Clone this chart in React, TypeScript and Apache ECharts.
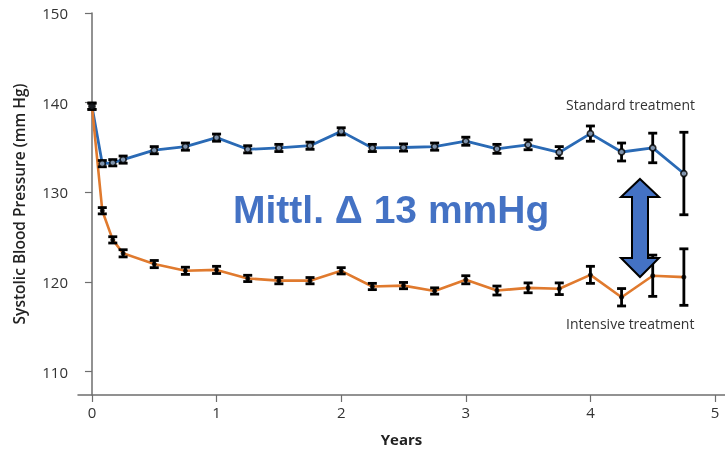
import React, { useEffect, useRef } from "react";
import * as echarts from "echarts";

// Visit times in years (baseline, 1 month, 2 months, 3 months, then quarterly)
const years = [0, 0.083, 0.167, 0.25, 0.5, 0.75, 1, 1.25, 1.5, 1.75, 2, 2.25, 2.5, 2.75, 3, 3.25, 3.5, 3.75, 4, 4.25, 4.5, 4.75];

// Mean systolic blood pressure (mm Hg)
const standardMean = [139.6, 133.2, 133.3, 133.65, 134.7, 135.1, 136.1, 134.8, 134.95, 135.2, 136.8, 134.95, 135.0, 135.1, 135.7, 134.85, 135.3, 134.45, 136.55, 134.5, 134.95, 132.1];
const intensiveMean = [139.6, 127.95, 124.7, 123.2, 122.0, 121.25, 121.35, 120.4, 120.15, 120.15, 121.25, 119.5, 119.6, 119.0, 120.25, 119.05, 119.35, 119.25, 120.8, 118.3, 120.7, 120.55];

// Half-width of the 95% confidence interval (mm Hg)
const standardErr = [0.35, 0.35, 0.35, 0.4, 0.4, 0.4, 0.4, 0.4, 0.4, 0.4, 0.4, 0.4, 0.4, 0.4, 0.45, 0.5, 0.55, 0.65, 0.85, 1.0, 1.65, 4.6];
const intensiveErr = [0.35, 0.35, 0.35, 0.4, 0.4, 0.4, 0.4, 0.35, 0.35, 0.35, 0.35, 0.35, 0.35, 0.35, 0.45, 0.5, 0.55, 0.65, 0.95, 0.97, 2.3, 3.15];

const yTicks = [110, 120, 130, 140, 150];
const xTicks = [0, 1, 2, 3, 4, 5];

const BLUE = "#2a6ab5";
const ORANGE = "#e07a2e";
const ACCENT = "#4472C4";

function errorBarSeries(mean: number[], err: number[]) {
  return {
    type: "custom",
    z: 3,
    data: years.map((x, i) => [x, mean[i] - err[i], mean[i] + err[i]]),
    renderItem: (_params: any, api: any) => {
      const x = api.value(0);
      const top = api.coord([x, api.value(2)]);
      const bot = api.coord([x, api.value(1)]);
      const hw = 4.5;
      const style = { stroke: "#000", lineWidth: 2.8 };
      return {
        type: "group",
        children: [
          { type: "line", shape: { x1: top[0], y1: top[1], x2: bot[0], y2: bot[1] }, style },
          { type: "line", shape: { x1: top[0] - hw, y1: top[1], x2: top[0] + hw, y2: top[1] }, style },
          { type: "line", shape: { x1: bot[0] - hw, y1: bot[1], x2: bot[0] + hw, y2: bot[1] }, style },
        ],
      };
    },
  };
}

export default function App() {
  const ref = useRef<HTMLDivElement>(null);

  useEffect(() => {
    if (!ref.current) return;
    const chart = echarts.init(ref.current, undefined, { renderer: "svg" });
    const axisColor = "#6e6e6e";
    const labelFont = "'Open Sans', 'Noto Sans', sans-serif";

    chart.setOption({
      animation: false,
      grid: { left: 78, right: 0, top: 13, bottom: 55 },
      xAxis: {
        type: "value",
        min: -0.112,
        max: 5.08,
        name: "Years",
        nameLocation: "middle",
        nameGap: 36,
        nameTextStyle: { fontFamily: labelFont, fontSize: 15, fontWeight: "bold", color: "#222" },
        axisLine: { show: true, lineStyle: { color: axisColor, width: 1.5 } },
        axisTick: { show: true, length: 7, customValues: xTicks, lineStyle: { color: axisColor, width: 1.2 } },
        axisLabel: { customValues: xTicks, margin: 9, fontFamily: labelFont, fontSize: 15, color: "#333" },
        splitLine: { show: false },
      },
      yAxis: {
        type: "value",
        min: 107.4,
        max: 150,
        name: "Systolic Blood Pressure (mm Hg)",
        nameLocation: "middle",
        nameGap: 51,
        nameTextStyle: { fontFamily: labelFont, fontSize: 15.5, fontWeight: 600, color: "#222" },
        axisLine: { show: true, lineStyle: { color: axisColor, width: 1.5 } },
        axisTick: { show: true, length: 7, customValues: yTicks, lineStyle: { color: axisColor, width: 1.2 } },
        axisLabel: { customValues: yTicks, margin: 10, fontFamily: labelFont, fontSize: 15, color: "#333" },
        splitLine: { show: false },
      },
      series: [
        {
          type: "line",
          z: 2,
          showSymbol: false,
          data: years.map((x, i) => [x, standardMean[i]]),
          lineStyle: { color: BLUE, width: 2.8 },
        },
        {
          type: "line",
          z: 2,
          showSymbol: false,
          data: years.map((x, i) => [x, intensiveMean[i]]),
          lineStyle: { color: ORANGE, width: 2.6 },
        },
        errorBarSeries(standardMean, standardErr),
        errorBarSeries(intensiveMean, intensiveErr),
        {
          type: "scatter",
          z: 4,
          symbol: "circle",
          symbolSize: 6,
          data: years.map((x, i) => [x, standardMean[i]]),
          itemStyle: { color: "#9fb6d4", borderColor: "#000", borderWidth: 1.8 },
        },
        {
          type: "scatter",
          z: 4,
          symbol: "circle",
          symbolSize: 5,
          data: years.map((x, i) => [x, intensiveMean[i]]),
          itemStyle: { color: "#000" },
        },
      ],
      graphic: [
        {
          type: "text",
          left: 566,
          top: 97,
          style: { text: "Standard treatment", font: `14px ${labelFont}`, fill: "#333" },
        },
        {
          type: "text",
          left: 566,
          top: 316,
          style: { text: "Intensive treatment", font: `14px ${labelFont}`, fill: "#333" },
        },
        {
          type: "text",
          left: 233,
          top: 190,
          style: {
            text: "Mittl. \u0394 13 mmHg",
            font: "bold 39px 'Liberation Sans', Arial, sans-serif",
            fill: ACCENT,
          },
        },
        {
          type: "polygon",
          shape: {
            points: [
              [640, 179], [659, 197], [648, 197], [648, 258], [659, 258],
              [640, 277], [621, 258], [632, 258], [632, 197], [621, 197],
            ],
          },
          style: { fill: ACCENT, stroke: "#000", lineWidth: 2 },
          z: 10,
        },
      ],
    });

    return () => chart.dispose();
  }, []);

  return <div ref={ref} style={{ position: "fixed", left: 0, top: 0, width: 725, height: 451 }} />;
}
